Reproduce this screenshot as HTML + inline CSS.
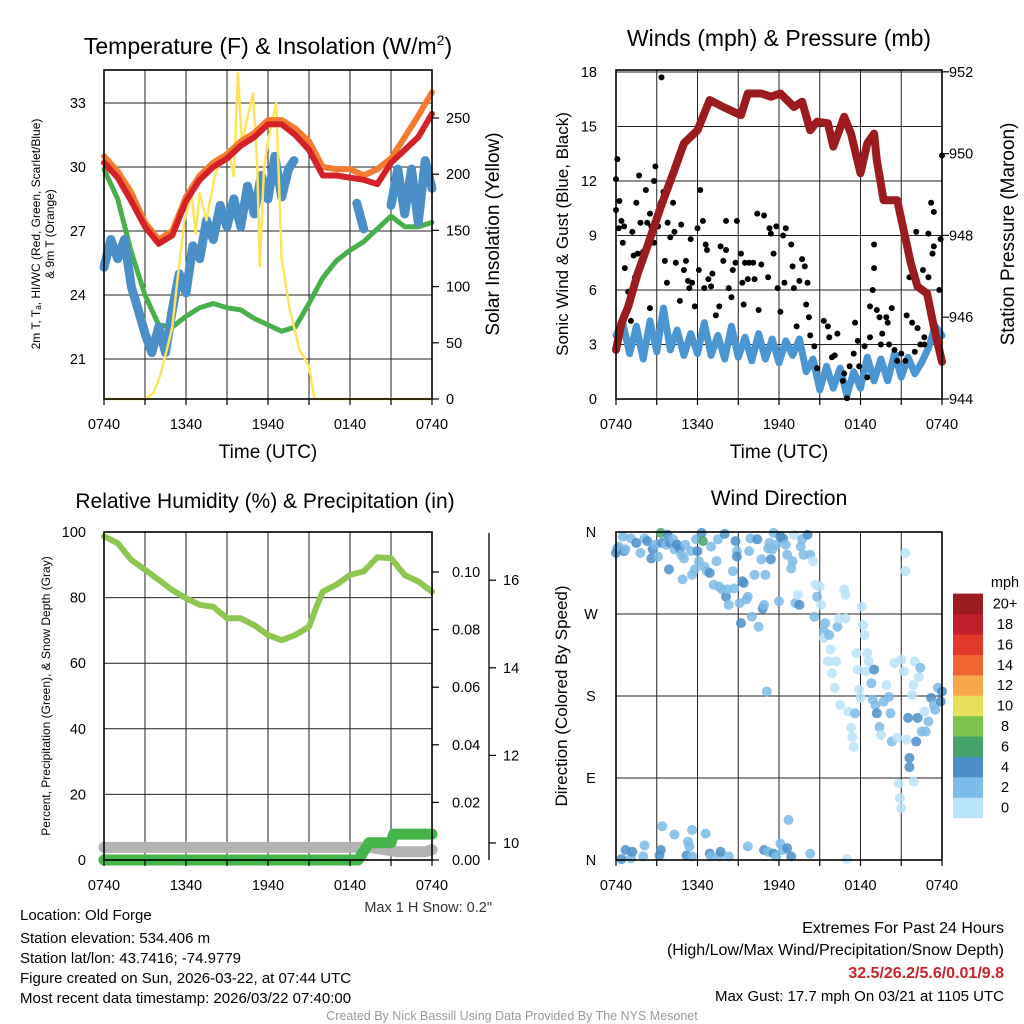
<!DOCTYPE html>
<html><head><meta charset="utf-8">
<style>
html,body{margin:0;padding:0;background:#fff;}
svg{display:block;font-family:"Liberation Sans",Arial,sans-serif;}
</style></head>
<body>
<svg id="c" width="1024" height="1024" viewBox="0 0 1024 1024">
<rect width="1024" height="1024" fill="#fff"/>
<g id="grid"></g>
<g id="marks"></g>
<g id="axes"></g>
<g id="labels"></g>
</svg>
<script>
// ---------- Panel 1 data ----------
const tempHours = [0,1,2,3,4,5,6,7,8,9,10,11,12,13,14,15,16,17,18,19,20,21,22,23,24];
const temp2m = [30.2,29.5,28.4,27.2,26.4,26.8,28.4,29.4,30.0,30.4,31.0,31.4,32.0,32.0,31.5,30.8,29.6,29.6,29.5,29.4,29.2,30.2,30.8,31.4,32.5];
const temp9m = [30.5,29.8,28.8,27.4,26.6,27.0,28.6,29.6,30.2,30.6,31.2,31.6,32.2,32.2,31.8,31.2,30.0,29.9,29.9,29.6,29.9,30.4,31.4,32.4,33.5];
const dewpoint = [29.9,28.5,26.0,24.0,22.6,22.5,23.0,23.4,23.6,23.4,23.3,22.9,22.6,22.3,22.5,23.6,24.8,25.6,26.1,26.5,27.1,27.7,27.2,27.2,27.4];
const windChillHours = [0,0.5,1,1.5,2,2.5,3,3.5,4,4.5,5,5.5,6,6.5,7,7.5,8,8.5,9,9.5,10,10.5,11,11.5,12,12.5,13,13.5,13.9,null,18.5,19,null,21,21.5,22,22.5,23,23.5,24];
const windChill = [25.3,26.6,25.7,26.6,24.4,23.3,22.2,21.3,22.5,21.3,23.3,25.0,24.1,26.3,25.7,27.5,26.6,28.2,27.2,28.5,27.2,29.1,27.8,29.6,28.5,30.5,28.6,29.9,30.3,null,28.3,27.1,null,28.2,29.9,27.8,29.9,27.4,30.3,29.0];
const solarHours = [0,3,3.6,4.1,4.6,5,5.4,5.9,6.4,6.7,7,7.5,8.1,8.7,9.1,9.5,9.8,10.1,10.4,10.9,11.2,11.4,11.7,12,12.6,13,13.6,14.3,15,15.4,24];
const solar = [0,0,5,20,44,64,109,159,183,147,183,159,198,216,222,198,290,227,245,272,212,118,203,230,263,124,79,44,29,0,0];
const tempTicks = [21,24,27,30,33];
const solarTicks = [0,50,100,150,200,250];
const timeTickLabels = ["0740","1340","1940","0140","0740"];

// ---------- Panel 2 data ----------
const pressHours = [0,0.4,0.9,1.6,2.3,3.3,4.3,5,6,6.9,7.9,9.2,9.7,10.7,11.4,12.1,13.1,13.7,14.3,14.8,15.6,16,16.8,17.3,18,18.5,19,19.2,19.7,20.7,21.7,22.2,22.9,23.4,24];
const pressure = [945.2,945.85,946.26,947.07,947.72,948.7,949.6,950.25,950.57,951.31,951.14,950.94,951.47,951.47,951.39,951.47,951.14,951.27,950.57,950.78,950.74,950.17,950.9,950.49,949.52,950.25,950.49,949.84,948.86,948.86,947.32,946.75,946.58,945.77,944.91];
const windHours = [0,0.5,1,1.5,2,2.5,3,3.5,4,4.5,5,5.5,6,6.5,7,7.5,8,8.5,9,9.5,10,10.5,11,11.5,12,12.5,13,13.5,14,14.5,15,15.5,16,16.5,17,17.5,18,18.5,19,19.5,20,20.5,21,21.5,22,22.5,23,23.5,24];
const windSpeed = [3.5,4.2,2.5,4.0,2.2,4.3,2.6,5.0,2.7,3.8,2.4,3.6,2.5,4.2,2.4,3.5,2.2,4.0,2.3,3.4,2.1,3.6,2.2,3.3,2.0,3.2,2.4,3.3,1.5,2.2,0.5,1.8,0.6,1.7,0.2,1.5,0.6,2.3,1.0,2.2,1.0,2.5,1.2,2.3,1.4,2.0,2.8,4.0,3.5];
const gustHours = [0,0.1,0.25,0,0.4,0.2,0.6,0.5,0.65,0.9,1.1,1.2,1.3,1.4,1.5,1.6,1.7,1.8,2.0,2.2,2.3,2.5,2.6,2.8,2.9,2.8,2.5,3.1,3.3,3.5,3.6,3.75,3.8,4.0,4.2,4.3,4.4,4.8,5.0,5.15,4.7,5.4,5.3,5.5,5.6,5.8,6.0,6.2,6.4,6.1,6.5,6.6,6.7,6.8,7.0,7.1,7.35,7.6,7.7,7.9,8.1,8.1,8.3,8.5,8.6,8.8,8.9,9.2,9.3,9.4,9.5,9.7,9.8,10.1,10.2,10.4,10.5,10.7,10.9,11.2,11.3,11.4,11.6,11.8,11.9,12.1,12.3,12.5,12.4,12.9,13.0,13.1,13.3,13.5,13.7,13.9,14.0,14.1,14.2,14.3,14.6,14.8,15.3,15.6,15.7,15.9,16.1,16.3,16.7,16.8,17.0,17.2,17.5,17.6,17.8,17.9,18.3,18.5,18.7,18.9,19.0,19.0,18.7,19.2,19.4,19.5,19.6,19.9,20.0,20.1,20.3,20.5,20.7,21.0,21.3,21.4,21.6,21.8,22.1,22.2,22.4,22.6,22.7,23.0,23.2,23.3,23.4,23.4,23.8,23.9,24.0,23.0,22.7,22.0,3.35];
const gustSpeed = [12.1,13.2,10.9,10.4,9.8,9.4,9.5,8.6,7.2,5.9,4.3,9.2,7.9,6.7,10.8,8.0,12.3,9.7,8.1,11.5,9.7,10.2,9.5,12.0,12.8,8.6,5.0,9.5,10.8,11.4,7.6,6.4,9.7,8.9,10.8,9.2,7.5,9.6,7.1,7.6,5.4,6.1,6.5,8.8,6.4,5.1,9.4,11.5,9.8,7.1,6.1,8.5,8.2,6.6,6.2,6.9,4.6,5.1,8.4,7.6,9.8,8.2,6.1,5.6,7.1,7.5,9.8,8.0,6.4,5.2,7.5,6.6,7.5,7.5,6.6,10.2,4.9,7.4,10.1,6.7,9.4,9.1,8.0,9.5,6.1,4.8,9.0,9.4,6.4,8.5,7.3,6.1,4.0,6.5,7.7,7.3,5.2,6.4,4.5,3.5,2.9,1.7,4.3,4.0,3.4,2.3,2.4,3.6,1.0,1.4,0.04,1.8,2.5,4.2,3.2,1.8,2.9,1.2,3.4,6.0,7.2,8.5,5.1,4.9,4.5,3.0,3.6,4.5,4.2,3.0,5.0,2.7,2.1,2.5,2.1,4.6,6.7,4.2,9.2,3.9,3.0,7.1,3.4,6.7,10.8,8.0,10.3,8.4,6.0,8.8,13.4,9.1,3.0,2.6,17.7];
const windTicks = [0,3,6,9,12,15,18];
const pressTicks = [944,946,948,950,952];

// ---------- Panel 3 data ----------
const rhHours = [0,1,2,3,4,5,6,7,8,9,10,11,12,13,14,15,15.5,16,17,18,19,20,21,22,23,24];
const rh = [98.7,96.6,91.5,88.5,85.4,82.3,79.8,77.8,77.2,73.7,73.7,71.6,68.6,67.0,68.6,71.1,76.7,81.8,83.9,86.9,88.0,92.3,92.0,86.9,84.9,81.8];
const precipHours = [0,18.6,19.4,21.0,21.2,24];
const precip = [0,0,0.006,0.006,0.009,0.009];
const snowHours = [0,18.9,19.5,20.5,21.5,22.5,23.5,24];
const snowDepth = [9.9,9.9,9.9,9.85,9.8,9.8,9.8,9.85];
const rhTicks = [0,20,40,60,80,100];
const precipTicks = [0.00,0.02,0.04,0.06,0.08,0.10];
const snowTicks = [10,12,14,16];

// ---------- Panel 4 data ----------
const dirHours = [0,0.1,0.2,0.5,0.6,0.7,1.1,1.5,1.8,2.1,2.3,2.6,2.7,2.9,3.1,3.3,3.4,3.7,3.8,3.9,4.0,4.2,4.3,4.5,4.7,4.8,4.9,5.0,5.1,5.5,5.6,5.8,5.9,6.0,6.1,6.3,6.4,6.5,6.7,6.9,7.0,7.2,7.4,7.5,7.6,7.8,8.0,8.1,8.2,8.3,8.6,8.7,8.8,8.9,8.9,9.1,9.2,9.3,9.4,9.6,9.7,9.8,9.9,10.0,10.2,10.4,10.5,10.7,10.8,10.9,11.0,11.1,11.2,11.3,11.4,11.5,11.6,11.8,12.0,12.1,12.3,12.5,12.6,12.9,13.0,13.1,13.2,13.4,13.5,13.6,13.7,13.8,14.1,14.3,14.5,14.6,14.7,14.8,15.0,15.1,15.3,15.3,15.4,15.6,15.7,15.8,15.9,16.1,16.2,16.3,16.4,16.5,16.8,16.9,16.9,17.1,17.3,17.4,17.5,17.6,17.7,17.8,17.9,18.0,18.1,18.2,18.3,18.4,18.5,18.6,18.8,18.9,19.0,19.1,19.2,19.4,19.5,19.7,19.9,20.1,20.2,20.3,20.5,20.7,20.8,20.9,21.0,21.0,21.2,21.3,21.3,21.4,21.5,21.6,21.6,21.8,21.9,21.9,22.0,22.1,22.2,22.3,22.4,22.5,22.7,22.8,23.0,23.2,23.4,23.5,23.7,23.9,24.0,
0.4,0.7,1.1,1.2,2.0,2.1,3.2,3.3,3.4,4.3,5.3,5.4,5.2,5.6,5.6,6.6,6.9,7.0,7.6,7.7,8.3,9.7,10.9,11.2,11.6,11.8,12.1,12.3,12.6,12.7,12.9,14.3,17.0];
const dirDegrees = [337,342,344,355,339,341,353,348,337,353,350,331,341,346,333,359,348,346,357,319,348,352,341,346,342,335,308,331,346,339,313,319,352,339,328,359,350,322,317,315,344,302,328,352,300,297,358,289,297,280,317,298,350,339,333,282,260,306,304,286,289,339,353,267,313,352,256,330,276,280,313,185,342,348,330,341,359,346,284,355,353,346,335,320,328,357,282,291,280,344,352,335,357,335,328,267,302,289,300,280,251,244,260,218,247,231,205,189,218,256,265,170,297,291,265,163,145,135,124,161,227,209,187,178,278,258,247,207,227,218,194,176,209,170,161,146,137,174,192,179,161,130,216,134,84,68,57,220,207,317,337,132,156,112,102,181,86,192,218,130,156,201,211,141,163,141,152,178,170,165,189,174,185,
1,11,2,9,4,16,5,11,37,28,20,15,5,4,33,29,7,4,4,9,4,15,11,9,7,4,18,11,13,44,4,7,1];
const dirSpeed = [5,5,3,3,5,3,3,5,3,3,5,5,5,3,3,7,5,3,5,5,5,3,3,5,5,3,3,3,3,3,3,3,3,5,3,5,7,3,3,5,3,3,3,3,3,3,5,5,3,3,3,3,5,3,5,3,5,5,5,3,3,3,3,3,3,5,3,3,5,3,3,3,3,3,5,3,3,3,3,5,5,3,3,3,3,1,3,1,5,3,3,3,5,3,1,3,1,3,1,1,3,1,3,1,3,1,1,1,1,3,1,1,1,1,1,1,1,1,1,3,1,1,1,1,1,1,1,1,1,1,3,3,5,3,5,3,1,3,1,3,3,3,1,1,1,1,1,1,1,1,1,1,5,5,5,1,1,1,1,5,5,1,3,3,1,3,3,5,3,3,3,5,5,
5,5,3,5,3,3,5,5,3,3,3,3,5,3,3,3,5,3,3,5,3,3,5,3,5,3,3,3,5,3,5,3,1];
const dirTickLabels = ["N","E","S","W","N"];
const dirTicks = [0,90,180,270,360];
const speedBins = ["0","2","4","6","8","10","12","14","16","18","20+"];
const speedColors = ["#b9e3f8","#7dbbe8","#4a8fc8","#46a46a","#7dc24c","#e8e05a","#f8a84a","#f06530","#e03a2c","#c1202a","#9b1b1e"];

// ---------- helpers ----------
const NS = "http://www.w3.org/2000/svg";
const G = id => document.getElementById(id);
function mk(tag, attrs, parent, text) {
  const e = document.createElementNS(NS, tag);
  for (const k in attrs) e.setAttribute(k, attrs[k]);
  if (text !== undefined) e.textContent = text;
  (parent || G("marks")).appendChild(e);
  return e;
}
function pathFrom(xs, ys, fx, fy) {
  let d = "", pen = false;
  for (let i = 0; i < xs.length; i++) {
    if (xs[i] === null || ys[i] === null) { pen = false; continue; }
    d += (pen ? "L" : "M") + fx(xs[i]).toFixed(1) + " " + fy(ys[i]).toFixed(1) + " ";
    pen = true;
  }
  return d;
}
function panel(x0, x1, y0, y1) { return { x0, x1, y0, y1, x: h => x0 + h * (x1 - x0) / 24 }; }

const P1 = panel(104, 432, 70, 399);
const P2 = panel(616, 942, 70, 399);
const P3 = panel(104, 432, 532, 860);
const P4 = panel(616, 942, 532, 860);
const tempY = t => 103 + (33 - t) * 21.333;
const solarY = w => 399 - w * 1.124;
const windY = m => 399 - m * 18.17;
const presY = p => 399 - (p - 944) * 40.9;
const rhY = r => 860 - r * 3.28;
const precipY = p => 860 - p * 2880;
const snowY = s => 843 - (s - 10) * 43.8;
const dirY = d => 860 - d / 360 * 328;

function gridAndBox(P, hTicksY, name) {
  const g = G("grid");
  for (let h = 0; h <= 24; h += 3) {
    const l = mk("line", {x1: P.x(h), x2: P.x(h), y1: P.y0, y2: P.y1, stroke: "#222", "stroke-width": 1}, g);
    
    
  }
  hTicksY.forEach(y => {
    const l = mk("line", {x1: P.x0, x2: P.x1, y1: y, y2: y, stroke: "#222", "stroke-width": 1}, g);
    
    
  });
  const b = mk("rect", {x: P.x0, y: P.y0, width: P.x1 - P.x0, height: P.y1 - P.y0, fill: "none", stroke: "#000", "stroke-width": 1.6}, G("axes"));
  
  
  for (let h = 0; h <= 24; h += 3) {
    const t = mk("line", {x1: P.x(h), x2: P.x(h), y1: P.y1, y2: P.y1 + 6, stroke: "#000", "stroke-width": 1.2}, G("axes"));
    
    
  }
  timeTickLabels.forEach((s, i) => {
    const t = mk("text", {x: P.x(i * 6), y: P.y1 + 30, "font-size": 14.5, "text-anchor": "middle", fill: "#000"}, G("labels"), s);
    
    
  });
}
function txt(x, y, s, size, anchor, name, extra) {
  const a = Object.assign({x, y, "font-size": size, "text-anchor": anchor || "middle", fill: "#000"}, extra || {});
  const t = mk("text", a, G("labels"), s);
  
  
  return t;
}
function vtxt(x, y, s, size, name) {
  const t = mk("text", {x: 0, y: 0, "font-size": size, "text-anchor": "middle", fill: "#000", transform: `translate(${x},${y}) rotate(-90)`}, G("labels"), s);
  
  
  return t;
}
function rightTicks(P, vals, fy, xTick, labelX, fmt, name) {
  vals.forEach(v => {
    const y = fy(v);
    const l = mk("line", {x1: xTick, x2: xTick + 7, y1: y, y2: y, stroke: "#000", "stroke-width": 1.2}, G("axes"));
    
    
    txt(labelX, y + 5, fmt(v), 14.5, "start", name + '-tick-label');
  });
}
function leftLabels(vals, fy, x, fmt, name) {
  vals.forEach(v => txt(x, fy(v) + 5, fmt(v), 14.5, "end", name + '-tick-label'));
}
function line(P, xs, ys, fy, color, w, name, extra) {
  const p = mk("path", Object.assign({d: pathFrom(xs, ys, P.x, fy), fill: "none", stroke: color, "stroke-width": w, "stroke-linejoin": "round", "stroke-linecap": "round"}, extra || {}));
  
  
  return p;
}

// ---------- Panel 1 ----------
gridAndBox(P1, tempTicks.map(tempY), "temp-panel");
leftLabels(tempTicks, tempY, 86, v => String(v), "temp-axis");
rightTicks(P1, solarTicks, solarY, 432, 446, v => String(v), "solar-axis");
line(P1, tempHours, dewpoint, tempY, "#47b04b", 5, "dewpoint-line");
line(P1, windChillHours, windChill, tempY, "#4a8fc8", 9, "windchill-line");
line(P1, solarHours, solar, solarY, "#fde45c", 2.5, "solar-line");
line(P1, tempHours, temp9m, tempY, "#f47a2e", 6, "temp-9m-line");
line(P1, tempHours, temp2m, tempY, "#d42027", 6, "temp-2m-line");

const t1 = txt(268, 54, "", 23, "middle", "temp-panel-title");
t1.innerHTML = 'Temperature (F) &amp; Insolation (W/m<tspan font-size="14" dy="-9">2</tspan><tspan dy="9">)</tspan>';
txt(268, 458, "Time (UTC)", 19, "middle", "temp-x-axis-title");
vtxt(40, 234, "2m T, T\u2090, HI/WC (Red, Green, Scarlet/Blue)", 12, "temp-y-axis-title");
vtxt(54, 234, "& 9m T (Orange)", 12, "temp-y-axis-title-2");
vtxt(499, 234, "Solar Insolation (Yellow)", 19, "solar-y-axis-title");

// ---------- Panel 2 ----------
gridAndBox(P2, windTicks.map(windY), "wind-panel");
leftLabels(windTicks, windY, 597, v => String(v), "wind-axis");
rightTicks(P2, pressTicks, presY, 942, 949, v => String(v), "pressure-axis");
line(P2, windHours, windSpeed, windY, "#4a96d2", 7, "sonic-wind-line");
gustHours.forEach((h, i) => {
  const c = mk("circle", {cx: P2.x(h), cy: windY(gustSpeed[i]), r: 3, fill: "#000"});
  
  
});
line(P2, pressHours, pressure, presY, "#9b1b1e", 8, "pressure-line");
txt(779, 46, "Winds (mph) & Pressure (mb)", 23, "middle", "wind-panel-title");
txt(779, 458, "Time (UTC)", 19, "middle", "wind-x-axis-title");
vtxt(568, 234, "Sonic Wind & Gust (Blue, Black)", 17, "wind-y-axis-title");
vtxt(1014, 234, "Station Pressure (Maroon)", 19, "pressure-y-axis-title");

// ---------- Panel 3 ----------
gridAndBox(P3, rhTicks.map(rhY), "rh-panel");
leftLabels(rhTicks, rhY, 86, v => String(v), "rh-axis");
rightTicks(P3, precipTicks, precipY, 432, 452, v => v.toFixed(2), "precip-axis");
const snowAx = mk("line", {x1: 489, x2: 489, y1: 533, y2: 860, stroke: "#000", "stroke-width": 1.3}, G("axes"));


rightTicks(P3, snowTicks, snowY, 489, 503, v => String(v), "snow-axis");
line(P3, snowHours, snowDepth, snowY, "#b3b3b3", 11, "snow-depth-line");
line(P3, precipHours, precip, precipY, "#45b549", 11, "precip-line");
line(P3, rhHours, rh, rhY, "#8dc751", 6, "rh-line");
txt(265, 508, "Relative Humidity (%) & Precipitation (in)", 21, "middle", "rh-panel-title");
vtxt(50, 696, "Percent, Precipitation (Green), & Snow Depth (Gray)", 12, "rh-y-axis-title");
txt(492, 912, "Max 1 H Snow: 0.2\"", 14.5, "end", "max-snow-note", {fill: "#333"});

// ---------- Panel 4 ----------
gridAndBox(P4, dirTicks.map(dirY), "dir-panel");
dirTicks.forEach((d, i) => txt(591, dirY(d) + 5, dirTickLabels[i], 14.5, "middle", "dir-axis-tick-label"));
dirHours.forEach((h, i) => {
  const bin = Math.min(10, Math.floor(dirSpeed[i] / 2));
  const c = mk("circle", {cx: P4.x(h), cy: dirY(dirDegrees[i]), r: 5, fill: speedColors[bin], "fill-opacity": 0.85});
  
  
});
txt(779, 505, "Wind Direction", 21, "middle", "dir-panel-title");
vtxt(567, 696, "Direction (Colored By Speed)", 17, "dir-y-axis-title");
speedBins.forEach((s, i) => {
  const y = 818 - (i + 1) * 20.4;
  const r = mk("rect", {x: 953, y: y, width: 30, height: 20.6, fill: speedColors[i]}, G("axes"));
  
  
  txt(1005, y + 15, s, 14.5, "middle", "colorbar-label");
});
txt(1005, 587, "mph", 14.5, "middle", "colorbar-title");

// ---------- footer ----------
const info = ["Location: Old Forge","Station elevation: 534.406 m","Station lat/lon: 43.7416; -74.9779","Figure created on Sun, 2026-03-22, at 07:44 UTC","Most recent data timestamp: 2026/03/22 07:40:00"];
const infoY = [920, 943, 963, 983, 1003];
info.forEach((s, i) => txt(20, infoY[i], s, 15, "start", "station-info-line"));
txt(1004, 933, "Extremes For Past 24 Hours", 16, "end", "extremes-title");
txt(1004, 955, "(High/Low/Max Wind/Precipitation/Snow Depth)", 16, "end", "extremes-subtitle");
txt(1004, 978, "32.5/26.2/5.6/0.01/9.8", 16, "end", "extremes-values", {fill: "#cc2229", "font-weight": "bold"});
txt(1004, 1001, "Max Gust: 17.7 mph On 03/21 at 1105 UTC", 15, "end", "max-gust-note");
txt(512, 1020, "Created By Nick Bassill Using Data Provided By The NYS Mesonet", 12.5, "middle", "credit-line", {fill: "#999"});
</script>
</body></html>
